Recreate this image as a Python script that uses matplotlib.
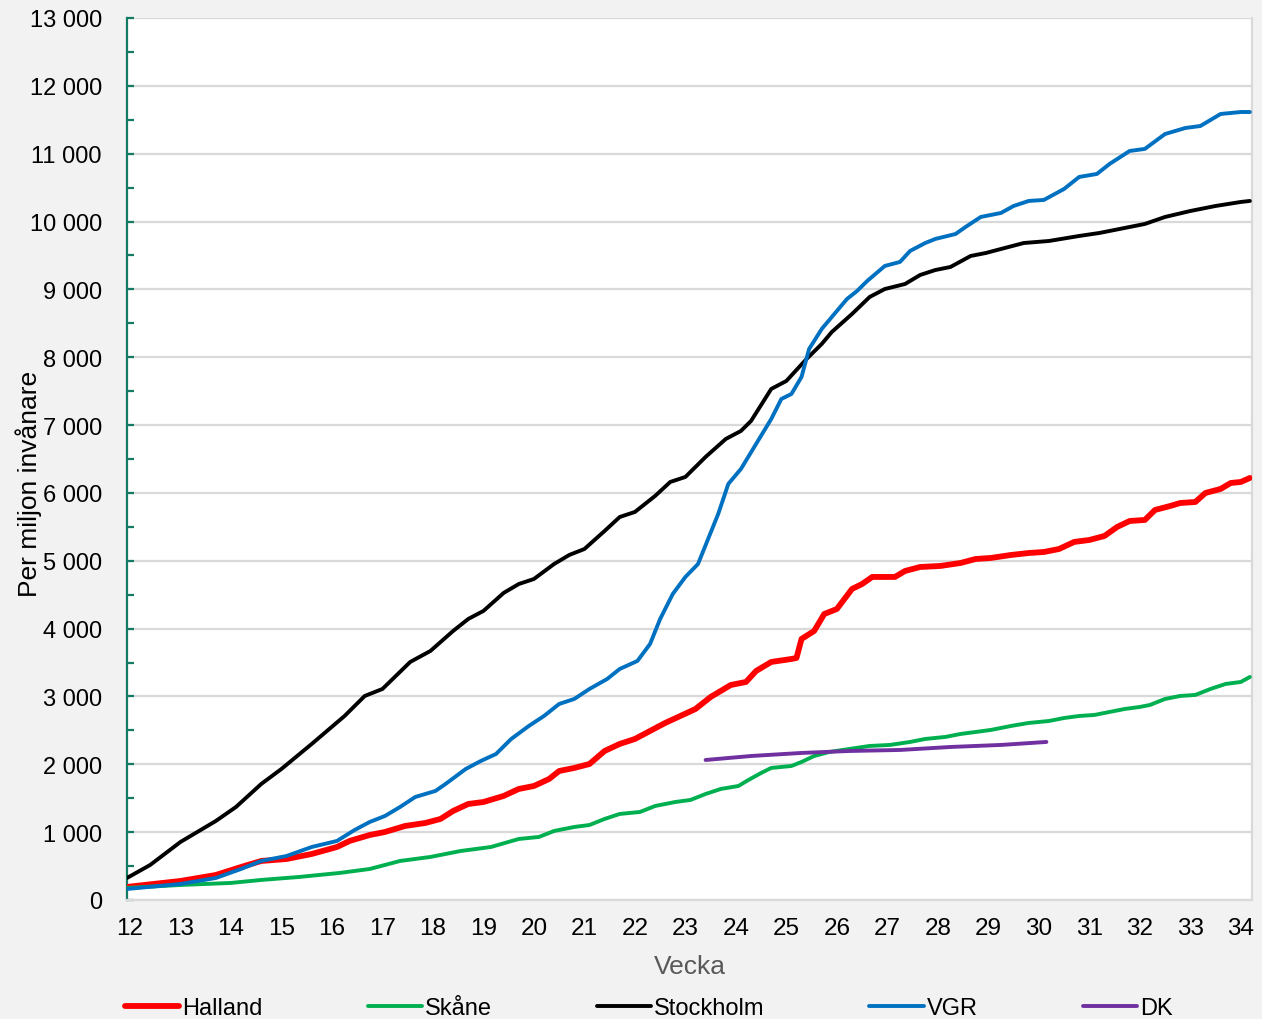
import matplotlib.pyplot as plt
from matplotlib.ticker import FuncFormatter, MultipleLocator

plt.rcParams['font.family'] = ['Liberation Sans', 'DejaVu Sans']

# veckor och värden per miljon invånare (avlästa)
stockholm_w = [11.94, 12.4, 13, 13.7, 14.1, 14.6, 15, 15.6, 16.25, 16.65, 17, 17.55, 17.95, 18.4,
               18.7, 19, 19.4, 19.7, 20, 20.4, 20.7, 21, 21.4, 21.7, 22, 22.4, 22.7, 23, 23.4,
               23.8, 24.1, 24.3, 24.7, 25, 25.4, 25.7, 25.9, 26.3, 26.65, 26.95, 27.35, 27.65,
               27.95, 28.25, 28.65, 28.95, 29.25, 29.7, 30.2, 30.8, 31.2, 31.6, 32.1, 32.5, 33,
               33.5, 34, 34.18]
stockholm = [324, 516, 855, 1164, 1371, 1710, 1931, 2300, 2712, 3007, 3110, 3508, 3670, 3965,
             4142, 4260, 4525, 4657, 4731, 4952, 5085, 5173, 5439, 5645, 5719, 5955, 6161, 6235,
             6530, 6795, 6913, 7060, 7532, 7650, 7974, 8195, 8372, 8637, 8888, 9005, 9079, 9212,
             9285, 9330, 9492, 9536, 9595, 9683, 9713, 9787, 9831, 9890, 9964, 10067, 10155,
             10229, 10288, 10303]

vgr_w = [11.94, 13, 13.7, 14.2, 14.6, 15.1, 15.6, 16.1, 16.45, 16.75, 17.05, 17.35, 17.65, 18.05,
         18.25, 18.65, 18.95, 19.25, 19.55, 19.9, 20.2, 20.5, 20.8, 21.1, 21.45, 21.7, 22.05,
         22.3, 22.5, 22.75, 23, 23.25, 23.45, 23.65, 23.85, 24.1, 24.4, 24.7, 24.9, 25.1, 25.3,
         25.45, 25.7, 25.95, 26.2, 26.4, 26.6, 26.95, 27.25, 27.45, 27.75, 27.95, 28.35, 28.55,
         28.85, 29.25, 29.5, 29.8, 30.1, 30.5, 30.8, 31.15, 31.4, 31.8, 32.1, 32.5, 32.9, 33.2,
         33.6, 34, 34.18]
vgr = [162, 236, 324, 457, 575, 648, 781, 870, 1032, 1150, 1238, 1371, 1518, 1607, 1710, 1931,
       2049, 2152, 2373, 2565, 2712, 2889, 2963, 3110, 3257, 3405, 3523, 3773, 4142, 4510, 4761,
       4952, 5321, 5690, 6132, 6353, 6721, 7089, 7384, 7458, 7709, 8121, 8416, 8637, 8858, 8976,
       9123, 9345, 9404, 9566, 9683, 9743, 9816, 9920, 10067, 10126, 10229, 10303, 10318, 10480,
       10657, 10701, 10848, 11040, 11070, 11290, 11378, 11408, 11585, 11614, 11614]

halland_w = [11.94, 13, 13.7, 14.2, 14.6, 15.1, 15.6, 16.1, 16.35, 16.75, 17.05, 17.45, 17.85,
             18.15, 18.4, 18.7, 19, 19.4, 19.7, 20, 20.3, 20.5, 20.8, 21.1, 21.4, 21.7, 22, 22.3,
             22.6, 22.9, 23.2, 23.5, 23.9, 24.2, 24.4, 24.7, 25.1, 25.2, 25.3, 25.55, 25.75, 26,
             26.3, 26.5, 26.7, 27.15, 27.35, 27.65, 28.05, 28.45, 28.75, 29.05, 29.45, 29.8, 30.1,
             30.4, 30.7, 31, 31.3, 31.55, 31.8, 32.1, 32.3, 32.6, 32.8, 33.1, 33.3, 33.6, 33.8,
             34, 34.18]
halland = [192, 280, 368, 486, 575, 604, 678, 781, 870, 958, 1002, 1091, 1135, 1194, 1312, 1415,
           1444, 1533, 1636, 1680, 1783, 1901, 1946, 2004, 2196, 2300, 2373, 2491, 2609, 2712,
           2815, 2992, 3169, 3213, 3375, 3508, 3552, 3567, 3847, 3965, 4215, 4289, 4584, 4657,
           4761, 4761, 4849, 4908, 4923, 4967, 5026, 5041, 5085, 5114, 5129, 5173, 5277, 5306,
           5365, 5498, 5586, 5601, 5748, 5807, 5851, 5866, 5999, 6058, 6146, 6161, 6220]

skane_w = [11.94, 13, 14, 14.6, 15.35, 16.15, 16.75, 17.35, 17.95, 18.55, 19.15, 19.7, 20.1, 20.4,
           20.8, 21.1, 21.4, 21.7, 22.1, 22.4, 22.8, 23.1, 23.4, 23.7, 24.05, 24.25, 24.5, 24.7,
           25.1, 25.3, 25.55, 25.85, 26.25, 26.65, 27.05, 27.45, 27.75, 28.15, 28.45, 28.75,
           29.05, 29.45, 29.8, 30.2, 30.5, 30.8, 31.1, 31.4, 31.7, 32, 32.2, 32.5, 32.8, 33.1,
           33.4, 33.7, 34, 34.18]
skane = [177, 221, 251, 295, 339, 398, 457, 575, 634, 722, 781, 899, 929, 1017, 1076, 1105, 1194,
         1268, 1297, 1385, 1444, 1474, 1562, 1636, 1680, 1769, 1872, 1946, 1975, 2034, 2122, 2181,
         2226, 2270, 2285, 2329, 2373, 2403, 2447, 2476, 2506, 2565, 2609, 2638, 2682, 2712,
         2727, 2771, 2815, 2845, 2874, 2963, 3007, 3022, 3110, 3184, 3213, 3287]

dk_w = [23.4, 24.3, 25.3, 26.25, 27.25, 28.25, 29.25, 30.15]
dk = [2063, 2122, 2167, 2196, 2211, 2255, 2285, 2329]

week_ticks = list(range(12, 35))

fig = plt.figure(figsize=(12.62, 10.2), dpi=100, facecolor='#f2f2f2')
ax = fig.add_axes([0.1006, 0.1167, 0.8914, 0.8647])
ax.set_facecolor('white')

ax.plot(halland_w, halland, color='#ff0000', lw=4.2, label='Halland', solid_capstyle='round',
        solid_joinstyle='round', zorder=3)
ax.plot(skane_w, skane, color='#00b050', lw=2.8, label='Skåne', solid_capstyle='round',
        solid_joinstyle='round', zorder=3)
ax.plot(stockholm_w, stockholm, color='#000000', lw=2.8, label='Stockholm', solid_capstyle='round',
        solid_joinstyle='round', zorder=3)
ax.plot(vgr_w, vgr, color='#0070c0', lw=2.8, label='VGR', solid_capstyle='round',
        solid_joinstyle='round', zorder=3)
ax.plot(dk_w, dk, color='#7030a0', lw=2.8, label='DK', solid_capstyle='round',
        solid_joinstyle='round', zorder=3)

ax.set_xlim(11.94, 34.22)
ax.set_ylim(0, 13000)
ax.set_xticks(week_ticks)
ax.yaxis.set_major_locator(MultipleLocator(1000))
ax.yaxis.set_minor_locator(MultipleLocator(500))
ax.yaxis.set_major_formatter(FuncFormatter(lambda v, p: f'{int(v):,}'.replace(',', ' ')))
ax.grid(axis='y', color='#d9d9d9', lw=1.6, zorder=0)

ax.tick_params(axis='y', which='both', direction='in', color='#147a64', width=1.6,
               labelsize=17, pad=18, length=5)
ax.tick_params(axis='x', length=0, labelsize=17.5, pad=12)

ax.spines['left'].set_color('#147a64')
ax.spines['left'].set_linewidth(1.6)
ax.spines['bottom'].set_color('#d9d9d9')
ax.spines['bottom'].set_linewidth(1.6)
ax.spines['right'].set_color('#d9d9d9')
ax.spines['right'].set_linewidth(1.6)
ax.spines['top'].set_visible(False)

ax.set_xlabel('Vecka', fontsize=19, color='#595959', labelpad=11)
ax.set_ylabel('Per miljon invånare', fontsize=19, color='black')
ax.yaxis.set_label_coords(-0.0756, 0.473)

fig.legend(loc='center', bbox_to_anchor=(0.514, 0.0105), ncol=5, frameon=False,
           fontsize=17, handlelength=2.3, handletextpad=0.12, columnspacing=4.45,
           borderaxespad=0, borderpad=0)

fig.savefig('out.png', dpi=100, facecolor=fig.get_facecolor())
